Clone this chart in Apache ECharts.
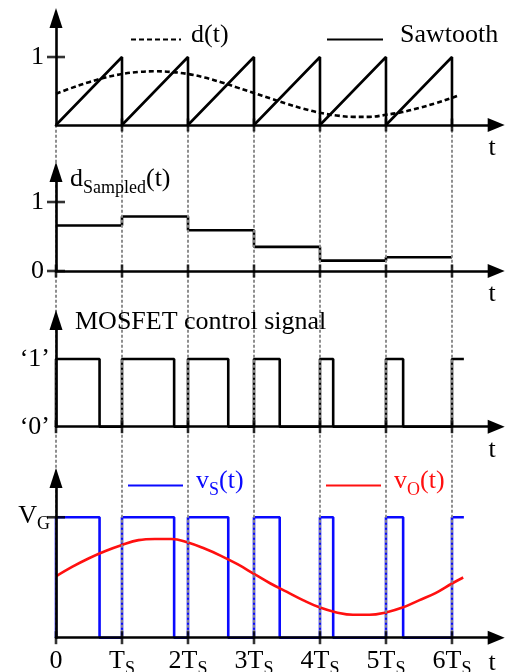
<!DOCTYPE html>
<html>
<head>
<meta charset="utf-8">
<script src="https://cdn.jsdelivr.net/npm/echarts@6/dist/echarts.min.js"></script>
<style>
html, body { margin: 0; padding: 0; background: #fff; }
#chart { width: 505px; height: 672px; }
</style>
</head>
<body>
<div id="chart"></div>
<script>
// ---- data (time in units of the switching period Ts) ----
const periods = [0, 1, 2, 3, 4, 5];
const tickValues = [0, 1, 2, 3, 4, 5, 6];
const tickLabels = ['0', 'TS', '2TS', '3TS', '4TS', '5TS', '6TS'];

// reference duty signal d(t)
const dTime  = [0, 0.25, 0.5, 0.75, 1, 1.25, 1.5, 1.75, 2, 2.25, 2.5, 2.75, 3, 3.25, 3.5, 3.75, 4, 4.25, 4.5, 4.75, 5, 5.25, 5.5, 5.75, 6, 6.11];
const dValue = [0.46, 0.55, 0.63, 0.70, 0.75, 0.78, 0.79, 0.78, 0.75, 0.70, 0.63, 0.55, 0.47, 0.39, 0.31, 0.24, 0.18, 0.14, 0.12, 0.12, 0.15, 0.19, 0.25, 0.32, 0.40, 0.44];

// duty cycle held over each period
const dSampled = [0.66, 0.79, 0.59, 0.35, 0.15, 0.20];

// on-time of the switch in each period, and the end of the pulse that starts at 6Ts
const onTime = [0.66, 0.79, 0.61, 0.39, 0.20, 0.26];
const lastPulseEnd = 6.18;

// filtered output voltage, as a fraction of V_G
const vTime = [0, 0.25, 0.5, 0.75, 1, 1.25, 1.5, 1.75, 2, 2.25, 2.5, 2.75, 3, 3.25, 3.5, 3.75, 4, 4.25, 4.5, 4.75, 5, 5.25, 5.5, 5.75, 6, 6.17];
const vOut  = [0.51, 0.59, 0.66, 0.72, 0.77, 0.81, 0.82, 0.82, 0.79, 0.74, 0.68, 0.61, 0.53, 0.45, 0.38, 0.31, 0.25, 0.21, 0.19, 0.19, 0.21, 0.25, 0.31, 0.37, 0.45, 0.50];

// ---- derived point lists ----
const sawtooth = [];
periods.forEach(k => { sawtooth.push([k, 0], [k + 1, 1], [k + 1, 0]); });

const dCurve = dTime.map((t, i) => [t, dValue[i]]);

const dHeld = [];
periods.forEach((k, i) => { dHeld.push([k, dSampled[i]], [k + 1, dSampled[i]]); });

const gate = [];
periods.forEach((k, i) => {
  gate.push([k, 0], [k, 1], [k + onTime[i], 1], [k + onTime[i], 0], [k + 1, 0]);
});
gate.push([6, 1], [lastPulseEnd, 1]);

const vOutCurve = vTime.map((t, i) => [t, vOut[i]]);

// ---- styling ----
const FONT = 'Liberation Serif, Times New Roman, serif';
const BLUE = '#0a0aff';
const RED = '#ff1010';
const LW = 2.6;
const FS = 26, FSS = 18;

function richSet(color) {
  return {
    m: { fontFamily: FONT, fontSize: FS, lineHeight: 27, padding: [0, 0, 5, 0], verticalAlign: 'bottom', color: color },
    s: { fontFamily: FONT, fontSize: FSS, lineHeight: 19, verticalAlign: 'bottom', color: color }
  };
}
const rich = richSet('#000');

function subLabel(txt) {
  // trailing capital S is the subscript of Ts
  if (txt.endsWith('S')) return '{m|' + txt.slice(0, -1) + '}{s|S}';
  return '{m|' + txt + '}';
}

const X0 = 56, XW = 440.2, XMAX = 6.67;
const panels = [
  { top: 18,  height: 107,   ymax: 1.574 },
  { top: 172, height: 99,    ymax: 1.435 },
  { top: 320, height: 106.7, ymax: 1.576 },
  { top: 478, height: 159.7, ymax: 1.326 }
];

const grids = panels.map(p => ({ left: X0, width: XW, top: p.top, height: p.height, outerBoundsMode: 'none' }));
grids.push({ left: X0, width: XW, top: 125, height: 512.7, outerBoundsMode: 'none' });

const tName = (padTop) => ({
  name: 't',
  nameLocation: 'end',
  nameGap: -4,
  nameTextStyle: { fontFamily: FONT, fontSize: FS, color: '#000', align: 'center', verticalAlign: 'top', padding: [padTop, 0, 0, 0] }
});

const xAxes = panels.map((p, i) => Object.assign({
  type: 'value', gridIndex: i, min: 0, max: XMAX, z: 5,
  axisLine: { show: true, onZero: false, symbol: ['none', 'triangle'], symbolSize: [14, 17], lineStyle: { color: '#000', width: LW } },
  axisTick: { show: false },
  splitLine: { show: false },
  axisLabel: i === 3 ? {
    show: true, margin: 14, customValues: tickValues,
    formatter: v => subLabel(tickLabels[tickValues.indexOf(Math.round(v))]),
    rich: rich
  } : { show: false }
}, tName(i === 3 ? 12 : 10)));
xAxes.push({ type: 'value', gridIndex: 4, min: 0, max: XMAX, show: false });

const yBase = {
  type: 'value', min: 0, z: 5,
  axisLine: { show: true, onZero: false, symbol: ['none', 'triangle'], symbolSize: [13, 20], lineStyle: { color: '#000', width: LW } },
  axisTick: { show: false },
  splitLine: { show: false }
};
const yAxes = [
  Object.assign({}, yBase, { gridIndex: 0, max: panels[0].ymax,
    axisLabel: { customValues: [1], margin: 12, fontFamily: FONT, fontSize: FS, color: '#000', formatter: () => '1' } }),
  Object.assign({}, yBase, { gridIndex: 1, max: panels[1].ymax,
    name: '{m|d}{s|Sampled}{m|(t)}', nameLocation: 'end', nameGap: -12,
    nameTextStyle: { align: 'left', verticalAlign: 'middle', padding: [0, 0, 0, 14], rich: rich },
    axisLabel: { customValues: [0, 1], margin: 12, fontFamily: FONT, fontSize: FS, color: '#000', formatter: v => String(Math.round(v)) } }),
  Object.assign({}, yBase, { gridIndex: 2, max: panels[2].ymax,
    name: 'MOSFET control signal', nameLocation: 'end', nameGap: -2,
    nameTextStyle: { fontFamily: FONT, fontSize: FS, color: '#000', align: 'left', verticalAlign: 'middle', padding: [0, 0, 0, 19] },
    axisLabel: { customValues: [0, 1], margin: 6, fontFamily: FONT, fontSize: FS, color: '#000', formatter: v => '\u2018' + Math.round(v) + '\u2019' } }),
  Object.assign({}, yBase, { gridIndex: 3, max: panels[3].ymax,
    axisLabel: { customValues: [1], margin: 6, padding: [6, 0, 0, 0], formatter: () => '{m|V}{s|G}', rich: rich } }),
  { type: 'value', gridIndex: 4, min: 0, max: 1, show: false }
];

// crossing tick marks on the axes
function ticksSeries(gi, xs, ys) {
  const data = [];
  xs.forEach(v => data.push({ value: [v, 0], symbolSize: [LW, 13] }));
  ys.forEach(v => data.push({ value: [0, v], symbolSize: [18, LW] }));
  return {
    type: 'scatter', xAxisIndex: gi, yAxisIndex: gi, symbol: 'rect', silent: true, z: 6,
    itemStyle: { color: '#000' }, data: data
  };
}

const lineBase = { type: 'line', showSymbol: false, symbol: 'none', silent: true, clip: false, z: 3 };

const series = [
  // dashed vertical guides at each multiple of Ts
  {
    type: 'line', xAxisIndex: 4, yAxisIndex: 4, data: [], z: -1, silent: true,
    markLine: {
      silent: true, symbol: ['none', 'none'], label: { show: false }, animation: false,
      lineStyle: { type: [3, 2], color: '#8a8a8a', width: 1.9 },
      data: tickValues.map(v => ({ xAxis: v }))
    }
  },
  Object.assign({}, lineBase, { name: 'Sawtooth', xAxisIndex: 0, yAxisIndex: 0, data: sawtooth,
    lineStyle: { color: '#000', width: LW }, itemStyle: { color: '#000' } }),
  Object.assign({}, lineBase, { name: 'd(t)', xAxisIndex: 0, yAxisIndex: 0, data: dCurve, smooth: 0.4,
    lineStyle: { color: '#000', width: LW, type: [5, 3] }, itemStyle: { color: '#000' } }),
  ticksSeries(0, [1, 2, 3, 4, 5, 6], [1]),
  Object.assign({}, lineBase, { name: 'dSampled', xAxisIndex: 1, yAxisIndex: 1, data: dHeld,
    lineStyle: { color: '#000', width: LW } }),
  ticksSeries(1, [0, 1, 2, 3, 4, 5, 6], [0, 1]),
  Object.assign({}, lineBase, { name: 'gate', xAxisIndex: 2, yAxisIndex: 2, data: gate,
    lineStyle: { color: '#000', width: LW } }),
  ticksSeries(2, [0, 1, 2, 3, 4, 5, 6], []),
  Object.assign({}, lineBase, { name: 'vS(t)', xAxisIndex: 3, yAxisIndex: 3, data: gate, z: 2,
    lineStyle: { color: BLUE, width: LW }, itemStyle: { color: BLUE } }),
  Object.assign({}, lineBase, { name: 'vO(t)', xAxisIndex: 3, yAxisIndex: 3, data: vOutCurve, smooth: 0.4, z: 3,
    lineStyle: { color: RED, width: LW }, itemStyle: { color: RED } }),
  ticksSeries(3, [0, 1, 2, 3, 4, 5, 6], [1])
];

// one legend per entry so each line sample and text can be placed on its own
function legendItem(name, text, color, left, top, lineW, gap) {
  return {
    data: [name], left: left, top: top, itemWidth: lineW, itemHeight: 14,
    selectedMode: false, padding: 0,
    itemStyle: { opacity: 0 },
    formatter: () => text,
    textStyle: { rich: richSet(color), padding: [0, 0, 0, gap] }
  };
}
const legends = [
  legendItem('d(t)', '{m|d(t)}', '#000', 130, 22, 50, 5),
  legendItem('Sawtooth', '{m|Sawtooth}', '#000', 326, 22, 56, 12),
  legendItem('vS(t)', '{m|v}{s|S}{m|(t)}', BLUE, 127, 468, 55, 8),
  legendItem('vO(t)', '{m|v}{s|O}{m|(t)}', RED, 325, 468, 55, 8)
];

const chart = echarts.init(document.getElementById('chart'), null, { renderer: 'canvas' });
chart.setOption({
  animation: false,
  backgroundColor: '#fff',
  grid: grids,
  xAxis: xAxes,
  yAxis: yAxes,
  legend: legends,
  series: series
});
</script>
</body>
</html>
